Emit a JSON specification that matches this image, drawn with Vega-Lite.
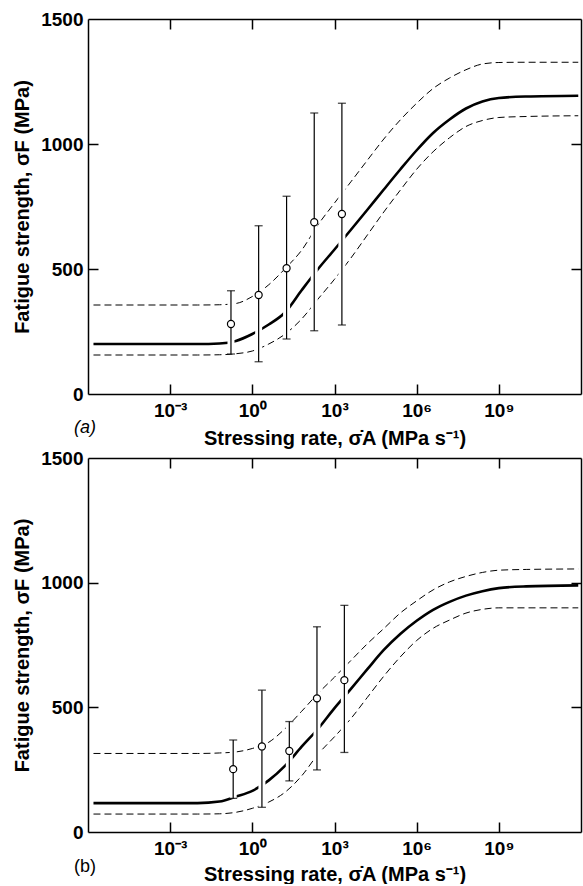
{
  "$schema": "https://vega.github.io/schema/vega-lite/v6.json",
  "background": "white",
  "padding": {"left": 12, "top": 10, "right": 2, "bottom": 0},
  "spacing": 1,
  "config": {
    "font": "Liberation Sans",
    "view": {"stroke": null},
    "axis": {
      "grid": false,
      "domainColor": "black",
      "domainWidth": 1.5,
      "tickColor": "black",
      "tickWidth": 1.5,
      "tickSize": 10,
      "labelFont": "Liberation Sans",
      "labelFontSize": 19,
      "labelFontWeight": "bold",
      "labelColor": "black",
      "titleFont": "Liberation Sans",
      "titleFontSize": 20,
      "titleFontWeight": "bold",
      "titleColor": "black"
    }
  },
  "datasets": {
    "curves": [
      {"panel":"a","series":"mean","rate":1.585e-6,"strength":200},
      {"panel":"a","series":"mean","rate":0.01,"strength":200},
      {"panel":"a","series":"mean","rate":0.0631,"strength":202},
      {"panel":"a","series":"mean","rate":0.251,"strength":212},
      {"panel":"a","series":"mean","rate":1,"strength":240},
      {"panel":"a","series":"mean","rate":3.98,"strength":278},
      {"panel":"a","series":"mean","rate":15.85,"strength":327},
      {"panel":"a","series":"mean","rate":63.1,"strength":415},
      {"panel":"a","series":"mean","rate":251,"strength":500},
      {"panel":"a","series":"mean","rate":1000,"strength":578},
      {"panel":"a","series":"mean","rate":3981,"strength":657},
      {"panel":"a","series":"mean","rate":15850,"strength":737},
      {"panel":"a","series":"mean","rate":63100,"strength":818},
      {"panel":"a","series":"mean","rate":251200,"strength":898},
      {"panel":"a","series":"mean","rate":1e6,"strength":975},
      {"panel":"a","series":"mean","rate":3.98e6,"strength":1044},
      {"panel":"a","series":"mean","rate":1.585e7,"strength":1098},
      {"panel":"a","series":"mean","rate":6.31e7,"strength":1142},
      {"panel":"a","series":"mean","rate":2.512e8,"strength":1170},
      {"panel":"a","series":"mean","rate":1e9,"strength":1184},
      {"panel":"a","series":"mean","rate":1e10,"strength":1190},
      {"panel":"a","series":"mean","rate":7.94e11,"strength":1193},
      {"panel":"a","series":"upper","rate":1.585e-6,"strength":356},
      {"panel":"a","series":"upper","rate":0.01,"strength":356},
      {"panel":"a","series":"upper","rate":0.0631,"strength":357},
      {"panel":"a","series":"upper","rate":0.251,"strength":362},
      {"panel":"a","series":"upper","rate":1,"strength":390},
      {"panel":"a","series":"upper","rate":3.98,"strength":437},
      {"panel":"a","series":"upper","rate":15.85,"strength":502},
      {"panel":"a","series":"upper","rate":63.1,"strength":575},
      {"panel":"a","series":"upper","rate":251,"strength":677},
      {"panel":"a","series":"upper","rate":1000,"strength":764},
      {"panel":"a","series":"upper","rate":3981,"strength":849},
      {"panel":"a","series":"upper","rate":15850,"strength":935},
      {"panel":"a","series":"upper","rate":63100,"strength":1020},
      {"panel":"a","series":"upper","rate":251200,"strength":1096},
      {"panel":"a","series":"upper","rate":1e6,"strength":1163},
      {"panel":"a","series":"upper","rate":3.98e6,"strength":1222},
      {"panel":"a","series":"upper","rate":1.585e7,"strength":1264},
      {"panel":"a","series":"upper","rate":6.31e7,"strength":1297},
      {"panel":"a","series":"upper","rate":2.512e8,"strength":1320},
      {"panel":"a","series":"upper","rate":1e9,"strength":1326},
      {"panel":"a","series":"upper","rate":1e10,"strength":1327},
      {"panel":"a","series":"upper","rate":7.94e11,"strength":1327},
      {"panel":"a","series":"lower","rate":1.585e-6,"strength":156},
      {"panel":"a","series":"lower","rate":0.01,"strength":156},
      {"panel":"a","series":"lower","rate":0.0631,"strength":157},
      {"panel":"a","series":"lower","rate":0.251,"strength":161},
      {"panel":"a","series":"lower","rate":1,"strength":172},
      {"panel":"a","series":"lower","rate":3.98,"strength":200},
      {"panel":"a","series":"lower","rate":15.85,"strength":240},
      {"panel":"a","series":"lower","rate":63.1,"strength":300},
      {"panel":"a","series":"lower","rate":251,"strength":380},
      {"panel":"a","series":"lower","rate":1000,"strength":459},
      {"panel":"a","series":"lower","rate":3981,"strength":544},
      {"panel":"a","series":"lower","rate":15850,"strength":636},
      {"panel":"a","series":"lower","rate":63100,"strength":728},
      {"panel":"a","series":"lower","rate":251200,"strength":815},
      {"panel":"a","series":"lower","rate":1e6,"strength":899},
      {"panel":"a","series":"lower","rate":3.98e6,"strength":969},
      {"panel":"a","series":"lower","rate":1.585e7,"strength":1025},
      {"panel":"a","series":"lower","rate":6.31e7,"strength":1070},
      {"panel":"a","series":"lower","rate":2.512e8,"strength":1094},
      {"panel":"a","series":"lower","rate":1e9,"strength":1106},
      {"panel":"a","series":"lower","rate":1e10,"strength":1110},
      {"panel":"a","series":"lower","rate":7.94e11,"strength":1113},
      {"panel":"b","series":"mean","rate":1.585e-6,"strength":116},
      {"panel":"b","series":"mean","rate":0.01,"strength":116},
      {"panel":"b","series":"mean","rate":0.0631,"strength":122},
      {"panel":"b","series":"mean","rate":0.251,"strength":142},
      {"panel":"b","series":"mean","rate":1,"strength":165},
      {"panel":"b","series":"mean","rate":3.98,"strength":207},
      {"panel":"b","series":"mean","rate":15.85,"strength":266},
      {"panel":"b","series":"mean","rate":63.1,"strength":342},
      {"panel":"b","series":"mean","rate":251,"strength":414},
      {"panel":"b","series":"mean","rate":1000,"strength":497},
      {"panel":"b","series":"mean","rate":3981,"strength":574},
      {"panel":"b","series":"mean","rate":15850,"strength":653},
      {"panel":"b","series":"mean","rate":63100,"strength":730},
      {"panel":"b","series":"mean","rate":251200,"strength":794},
      {"panel":"b","series":"mean","rate":1e6,"strength":847},
      {"panel":"b","series":"mean","rate":3.98e6,"strength":891},
      {"panel":"b","series":"mean","rate":1.585e7,"strength":923},
      {"panel":"b","series":"mean","rate":6.31e7,"strength":948},
      {"panel":"b","series":"mean","rate":2.512e8,"strength":966},
      {"panel":"b","series":"mean","rate":1e9,"strength":978},
      {"panel":"b","series":"mean","rate":1e10,"strength":985},
      {"panel":"b","series":"mean","rate":7.94e11,"strength":989},
      {"panel":"b","series":"upper","rate":1.585e-6,"strength":315},
      {"panel":"b","series":"upper","rate":0.01,"strength":315},
      {"panel":"b","series":"upper","rate":0.0631,"strength":317},
      {"panel":"b","series":"upper","rate":0.251,"strength":321},
      {"panel":"b","series":"upper","rate":1,"strength":335},
      {"panel":"b","series":"upper","rate":3.98,"strength":360},
      {"panel":"b","series":"upper","rate":15.85,"strength":415},
      {"panel":"b","series":"upper","rate":63.1,"strength":484},
      {"panel":"b","series":"upper","rate":251,"strength":556},
      {"panel":"b","series":"upper","rate":1000,"strength":621},
      {"panel":"b","series":"upper","rate":3981,"strength":688},
      {"panel":"b","series":"upper","rate":15850,"strength":755},
      {"panel":"b","series":"upper","rate":63100,"strength":816},
      {"panel":"b","series":"upper","rate":251200,"strength":878},
      {"panel":"b","series":"upper","rate":1e6,"strength":927},
      {"panel":"b","series":"upper","rate":3.98e6,"strength":971},
      {"panel":"b","series":"upper","rate":1.585e7,"strength":1003},
      {"panel":"b","series":"upper","rate":6.31e7,"strength":1025},
      {"panel":"b","series":"upper","rate":2.512e8,"strength":1041},
      {"panel":"b","series":"upper","rate":1e9,"strength":1050},
      {"panel":"b","series":"upper","rate":1e10,"strength":1053},
      {"panel":"b","series":"upper","rate":7.94e11,"strength":1055},
      {"panel":"b","series":"lower","rate":1.585e-6,"strength":72},
      {"panel":"b","series":"lower","rate":0.01,"strength":72},
      {"panel":"b","series":"lower","rate":0.0631,"strength":73},
      {"panel":"b","series":"lower","rate":0.251,"strength":79},
      {"panel":"b","series":"lower","rate":1,"strength":95},
      {"panel":"b","series":"lower","rate":3.98,"strength":120},
      {"panel":"b","series":"lower","rate":15.85,"strength":160},
      {"panel":"b","series":"lower","rate":63.1,"strength":225},
      {"panel":"b","series":"lower","rate":251,"strength":312},
      {"panel":"b","series":"lower","rate":1000,"strength":382},
      {"panel":"b","series":"lower","rate":3981,"strength":455},
      {"panel":"b","series":"lower","rate":15850,"strength":540},
      {"panel":"b","series":"lower","rate":63100,"strength":625},
      {"panel":"b","series":"lower","rate":251200,"strength":702},
      {"panel":"b","series":"lower","rate":1e6,"strength":768},
      {"panel":"b","series":"lower","rate":3.98e6,"strength":817},
      {"panel":"b","series":"lower","rate":1.585e7,"strength":850},
      {"panel":"b","series":"lower","rate":6.31e7,"strength":878},
      {"panel":"b","series":"lower","rate":2.512e8,"strength":893},
      {"panel":"b","series":"lower","rate":1e9,"strength":899},
      {"panel":"b","series":"lower","rate":1e10,"strength":899},
      {"panel":"b","series":"lower","rate":7.94e11,"strength":899}
    ],
    "points": [
      {"panel":"a","rate":0.166,"strength":280,"lo":160,"hi":413},
      {"panel":"a","rate":1.70,"strength":396,"lo":129,"hi":673},
      {"panel":"a","rate":17.8,"strength":503,"lo":220,"hi":791},
      {"panel":"a","rate":182,"strength":687,"lo":253,"hi":1124},
      {"panel":"a","rate":1862,"strength":720,"lo":276,"hi":1163},
      {"panel":"b","rate":0.20,"strength":252,"lo":135,"hi":369},
      {"panel":"b","rate":2.24,"strength":343,"lo":99,"hi":569},
      {"panel":"b","rate":22.4,"strength":325,"lo":205,"hi":443},
      {"panel":"b","rate":229,"strength":536,"lo":249,"hi":823},
      {"panel":"b","rate":2291,"strength":609,"lo":319,"hi":909}
    ]
  },
  "vconcat": [
    {
      "width": 493,
      "height": 375,
      "title": {"text": "(a)", "orient": "bottom", "anchor": "start", "frame": "group", "offset": -29, "dx": -14, "font": "Liberation Sans", "fontSize": 18, "fontStyle": "italic", "fontWeight": "normal", "color": "black"},
      "resolve": {"axis": {"x": "independent", "y": "independent"}},
      "layer": [
        {
          "data": {"name": "curves"},
          "transform": [{"filter": "datum.panel === 'a' && datum.series !== 'mean'"}],
          "mark": {"type": "line", "interpolate": "monotone", "color": "black", "strokeWidth": 1, "strokeDash": [7, 4]},
          "encoding": {
            "x": {"field": "rate", "type": "quantitative", "scale": {"type": "log", "domain": [1e-6, 1e12], "nice": false}, "axis": {"orient": "top", "offset": -375, "labels": false, "domain": false, "values": [0.001, 1, 1000, 1e6, 1e9], "title": null}},
            "y": {"field": "strength", "type": "quantitative", "scale": {"domain": [0, 1500], "nice": false}, "axis": {"orient": "right", "offset": -493, "labels": false, "domain": false, "values": [500, 1000], "title": null}},
            "detail": {"field": "series"}
          }
        },
        {
          "data": {"name": "curves"},
          "transform": [{"filter": "datum.panel === 'a' && datum.series === 'mean'"}],
          "mark": {"type": "line", "interpolate": "monotone", "color": "black", "strokeWidth": 2.6},
          "encoding": {
            "x": {"field": "rate", "type": "quantitative", "axis": {"orient": "bottom", "ticks": false, "labelPadding": 7, "values": [0.001, 1, 1000, 1e6, 1e9], "labelExpr": "datum.value < 0.01 ? '10⁻³' : datum.value < 10 ? '10⁰' : datum.value < 1e4 ? '10³' : datum.value < 1e7 ? '10⁶' : '10⁹'", "title": "Stressing rate, σ̇A (MPa s⁻¹)", "titlePadding": 8}},
            "y": {"field": "strength", "type": "quantitative", "axis": {"orient": "left", "ticks": false, "labelPadding": 5, "values": [0, 500, 1000, 1500], "format": "d", "title": "Fatigue strength, σF (MPa)", "titlePadding": 8}}
          }
        },
        {
          "data": {"name": "points"},
          "transform": [{"filter": "datum.panel === 'a'"}],
          "mark": {"type": "rule", "color": "white", "strokeWidth": 7},
          "encoding": {
            "x": {"field": "rate", "type": "quantitative", "axis": {"orient": "bottom", "offset": -375, "labels": false, "values": [0.001, 1, 1000, 1e6, 1e9], "title": null}},
            "y": {"field": "lo", "type": "quantitative", "axis": {"orient": "left", "offset": -493, "labels": false, "values": [500, 1000], "title": null}},
            "y2": {"field": "hi"}
          }
        },
        {
          "data": {"name": "points"},
          "transform": [{"filter": "datum.panel === 'a'"}],
          "mark": {"type": "rule", "color": "black", "strokeWidth": 1.2},
          "encoding": {
            "x": {"field": "rate", "type": "quantitative", "axis": null},
            "y": {"field": "lo", "type": "quantitative", "axis": null},
            "y2": {"field": "hi"}
          }
        },
        {
          "data": {"name": "points"},
          "transform": [{"filter": "datum.panel === 'a'"}],
          "mark": {"type": "tick", "orient": "horizontal", "color": "black", "size": 8, "thickness": 1.3},
          "encoding": {
            "x": {"field": "rate", "type": "quantitative", "axis": null},
            "y": {"field": "lo", "type": "quantitative", "axis": null}
          }
        },
        {
          "data": {"name": "points"},
          "transform": [{"filter": "datum.panel === 'a'"}],
          "mark": {"type": "tick", "orient": "horizontal", "color": "black", "size": 8, "thickness": 1.3},
          "encoding": {
            "x": {"field": "rate", "type": "quantitative", "axis": null},
            "y": {"field": "hi", "type": "quantitative", "axis": null}
          }
        },
        {
          "data": {"name": "points"},
          "transform": [{"filter": "datum.panel === 'a'"}],
          "mark": {"type": "point", "shape": "circle", "filled": true, "fill": "white", "stroke": "black", "strokeWidth": 1.2, "size": 50, "opacity": 1},
          "encoding": {
            "x": {"field": "rate", "type": "quantitative", "axis": null},
            "y": {"field": "strength", "type": "quantitative", "axis": null}
          }
        }
      ]
    },
    {
      "width": 493,
      "height": 374,
      "title": {"text": "(b)", "orient": "bottom", "anchor": "start", "frame": "group", "offset": -26, "dx": -14, "font": "Liberation Sans", "fontSize": 18, "fontWeight": "normal", "color": "black"},
      "resolve": {"axis": {"x": "independent", "y": "independent"}},
      "layer": [
        {
          "data": {"name": "curves"},
          "transform": [{"filter": "datum.panel === 'b' && datum.series !== 'mean'"}],
          "mark": {"type": "line", "interpolate": "monotone", "color": "black", "strokeWidth": 1, "strokeDash": [7, 4]},
          "encoding": {
            "x": {"field": "rate", "type": "quantitative", "scale": {"type": "log", "domain": [1e-6, 1e12], "nice": false}, "axis": {"orient": "top", "offset": -374, "labels": false, "domain": false, "values": [0.001, 1, 1000, 1e6, 1e9], "title": null}},
            "y": {"field": "strength", "type": "quantitative", "scale": {"domain": [0, 1500], "nice": false}, "axis": {"orient": "right", "offset": -493, "labels": false, "domain": false, "values": [500, 1000], "title": null}},
            "detail": {"field": "series"}
          }
        },
        {
          "data": {"name": "curves"},
          "transform": [{"filter": "datum.panel === 'b' && datum.series === 'mean'"}],
          "mark": {"type": "line", "interpolate": "monotone", "color": "black", "strokeWidth": 2.6},
          "encoding": {
            "x": {"field": "rate", "type": "quantitative", "axis": {"orient": "bottom", "ticks": false, "labelPadding": 7, "values": [0.001, 1, 1000, 1e6, 1e9], "labelExpr": "datum.value < 0.01 ? '10⁻³' : datum.value < 10 ? '10⁰' : datum.value < 1e4 ? '10³' : datum.value < 1e7 ? '10⁶' : '10⁹'", "title": "Stressing rate, σ̇A (MPa s⁻¹)", "titlePadding": 6}},
            "y": {"field": "strength", "type": "quantitative", "axis": {"orient": "left", "ticks": false, "labelPadding": 5, "values": [0, 500, 1000, 1500], "format": "d", "title": "Fatigue strength, σF (MPa)", "titlePadding": 8}}
          }
        },
        {
          "data": {"name": "points"},
          "transform": [{"filter": "datum.panel === 'b'"}],
          "mark": {"type": "rule", "color": "white", "strokeWidth": 7},
          "encoding": {
            "x": {"field": "rate", "type": "quantitative", "axis": {"orient": "bottom", "offset": -374, "labels": false, "values": [0.001, 1, 1000, 1e6, 1e9], "title": null}},
            "y": {"field": "lo", "type": "quantitative", "axis": {"orient": "left", "offset": -493, "labels": false, "values": [500, 1000], "title": null}},
            "y2": {"field": "hi"}
          }
        },
        {
          "data": {"name": "points"},
          "transform": [{"filter": "datum.panel === 'b'"}],
          "mark": {"type": "rule", "color": "black", "strokeWidth": 1.2},
          "encoding": {
            "x": {"field": "rate", "type": "quantitative", "axis": null},
            "y": {"field": "lo", "type": "quantitative", "axis": null},
            "y2": {"field": "hi"}
          }
        },
        {
          "data": {"name": "points"},
          "transform": [{"filter": "datum.panel === 'b'"}],
          "mark": {"type": "tick", "orient": "horizontal", "color": "black", "size": 8, "thickness": 1.3},
          "encoding": {
            "x": {"field": "rate", "type": "quantitative", "axis": null},
            "y": {"field": "lo", "type": "quantitative", "axis": null}
          }
        },
        {
          "data": {"name": "points"},
          "transform": [{"filter": "datum.panel === 'b'"}],
          "mark": {"type": "tick", "orient": "horizontal", "color": "black", "size": 8, "thickness": 1.3},
          "encoding": {
            "x": {"field": "rate", "type": "quantitative", "axis": null},
            "y": {"field": "hi", "type": "quantitative", "axis": null}
          }
        },
        {
          "data": {"name": "points"},
          "transform": [{"filter": "datum.panel === 'b'"}],
          "mark": {"type": "point", "shape": "circle", "filled": true, "fill": "white", "stroke": "black", "strokeWidth": 1.2, "size": 50, "opacity": 1},
          "encoding": {
            "x": {"field": "rate", "type": "quantitative", "axis": null},
            "y": {"field": "strength", "type": "quantitative", "axis": null}
          }
        }
      ]
    }
  ]
}
